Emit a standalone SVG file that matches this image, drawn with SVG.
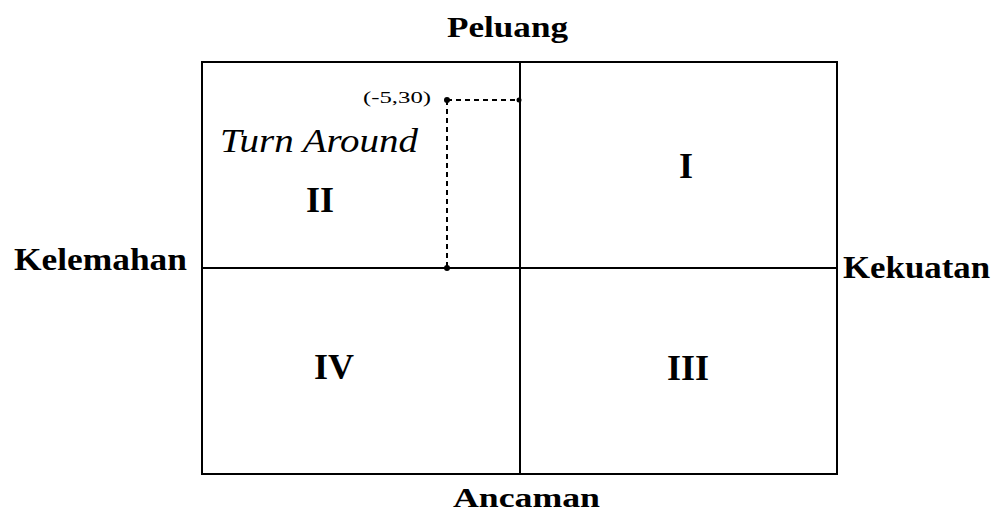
<svg xmlns="http://www.w3.org/2000/svg" width="994" height="516" viewBox="0 0 994 516">
<style>
.ln{stroke:#000;stroke-width:2;fill:none}
.ds{stroke:#000;stroke-width:2;fill:none;stroke-dasharray:5,4}
.lb{font-family:"Liberation Serif",serif;font-weight:bold;fill:#000}
.rm{font-family:"Liberation Serif",serif;font-weight:bold;font-size:36px;fill:#000;text-anchor:middle}
</style>
<rect width="994" height="516" fill="#fff"/>
<g id="grid">
<rect class="ln" x="202" y="62" width="635" height="412"/>
<line class="ln" x1="520" y1="62" x2="520" y2="474"/>
<line class="ln" x1="202" y1="268" x2="837" y2="268"/>
</g>
<g id="connectors">
<line class="ds" x1="447" y1="100" x2="520" y2="100"/>
<line class="ds" x1="447" y1="100" x2="447" y2="268"/>
<circle cx="447" cy="100" r="3"/>
<circle cx="519" cy="100" r="2.5"/>
<circle cx="447" cy="268" r="3"/>
</g>
<g id="labels">
<text class="lb" x="447" y="37" font-size="30" textLength="121" lengthAdjust="spacingAndGlyphs">Peluang</text>
<text class="lb" x="453" y="507" font-size="28" textLength="147" lengthAdjust="spacingAndGlyphs">Ancaman</text>
<text class="lb" x="14" y="270" font-size="32" textLength="173" lengthAdjust="spacingAndGlyphs">Kelemahan</text>
<text class="lb" x="843" y="278" font-size="32" textLength="147" lengthAdjust="spacingAndGlyphs">Kekuatan</text>
</g>
<g id="point">
<text x="363" y="103" font-family="'Liberation Serif',serif" font-size="17" textLength="68" lengthAdjust="spacingAndGlyphs">(-5,30)</text>
</g>
<g id="q2">
<text x="220" y="152" font-family="'Liberation Serif',serif" font-style="italic" font-size="34" textLength="198" lengthAdjust="spacingAndGlyphs">Turn Around</text>
<text class="rm" x="320" y="212">II</text>
</g>
<g id="q1"><text class="rm" x="686" y="178">I</text></g>
<g id="q4"><text class="rm" x="334" y="379">IV</text></g>
<g id="q3"><text class="rm" x="688" y="380">III</text></g>
</svg>
